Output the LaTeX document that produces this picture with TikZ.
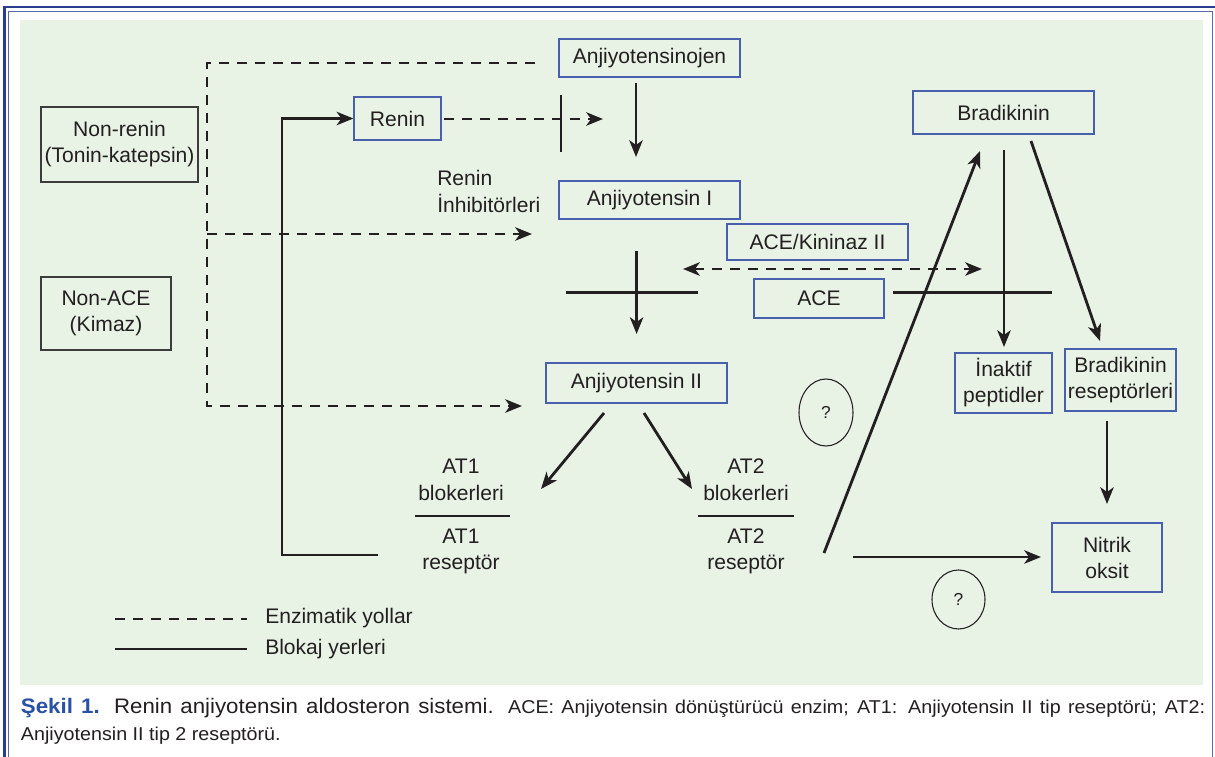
\documentclass[tikz,border=0pt]{standalone}
\usepackage{fontspec}
\setmainfont{Liberation Sans}
\newfontfamily\capfont[FakeStretch=1.06]{Liberation Sans}
\usetikzlibrary{arrows.meta,shapes.geometric}
\definecolor{bg}{RGB}{232,243,230}
\definecolor{boxblue}{RGB}{72,95,172}
\definecolor{boxgray}{RGB}{60,60,60}
\definecolor{navy}{RGB}{42,60,140}
\definecolor{frameblue}{RGB}{85,105,175}
\definecolor{ink}{RGB}{35,31,32}
\definecolor{capblue}{RGB}{40,80,165}
\newcommand\dfont{\fontsize{15.8}{19.5}\selectfont}
\newcommand\qfont{\fontsize{13}{15}\selectfont}
\begin{document}
\begin{tikzpicture}[x=0.75pt,y=-0.75pt,
  bx/.style={draw=boxblue, line width=0.9pt, inner sep=0pt, align=center, text=ink, font=\dfont},
  gbx/.style={bx, draw=boxgray, line width=0.8pt},
  lbl/.style={inner sep=0pt, text=ink, font=\dfont},
  sol/.style={draw=ink, line width=2.1pt},
  tip/.tip={Stealth[length=12.5pt,width=10pt,inset=3.5pt]},
  arr/.style={sol, -tip},
  dsh/.style={sol, dash pattern=on 7.5pt off 6pt},
  darr/.style={dsh, -tip},
  qel/.style={ellipse, draw=ink, line width=0.8pt, inner sep=0pt, text=ink, font=\qfont}
]
\useasboundingbox (0,0) rectangle (1215,757);
\fill[white] (0,0) rectangle (1215,757);
\fill[bg] (20,20) rectangle (1203,685);
% frame
\draw[navy, line width=2pt] (4.7,757) -- (4.7,7) -- (1215,7);
\draw[frameblue, line width=0.8pt] (8.8,757) -- (8.8,11.3) -- (1212.7,11.3) -- (1212.7,757);

% boxes
\node[gbx, minimum width=117.75pt, minimum height=56.25pt] (nonrenin) at (119.5,144.5) {Non-renin\\(Tonin-katepsin)};
\node[gbx, minimum width=97.5pt, minimum height=54.75pt] (nonace) at (106,313.5) {Non-ACE\\(Kimaz)};
\node[bx, minimum width=65.25pt, minimum height=32.25pt] (renin) at (397.5,118.5) {Renin};
\node[bx, minimum width=135.75pt, minimum height=28.5pt] (ajo) at (649.5,58) {Anjiyotensinojen};
\node[bx, minimum width=135.75pt, minimum height=28.5pt] (a1) at (649.5,200) {Anjiyotensin I};
\node[bx, minimum width=135.75pt, minimum height=27pt] (kin) at (817.5,242) {ACE/Kininaz II};
\node[bx, minimum width=97.5pt, minimum height=29.25pt] (ace) at (819,298.5) {ACE};
\node[bx, minimum width=135.75pt, minimum height=30pt] (a2) at (636.5,383) {Anjiyotensin II};
\node[bx, minimum width=135.75pt, minimum height=32.25pt] (brad) at (1003.5,112.5) {Bradikinin};
\node[bx, minimum width=72.75pt, minimum height=45pt] (inak) at (1003.5,383) {İnaktif\\peptidler};
\node[bx, minimum width=83.25pt, minimum height=46.5pt] (brec) at (1120.5,380) {Bradikinin\\reseptörleri};
\node[bx, minimum width=82.5pt, minimum height=51.75pt] (no) at (1107,557.5) {Nitrik\\oksit};

% ellipses
\node[qel, minimum width=40.5pt, minimum height=50.25pt] (q1) at (826,412.5) {?};
\node[qel, minimum width=39.75pt, minimum height=44.25pt] (q2) at (958.5,599.5) {?};

% free labels
\node[lbl, anchor=base west] (ri1) at (437,185) {Renin};
\node[lbl, anchor=base west] (ri2) at (437,212) {İnhibitörleri};
\node[lbl, anchor=base] (at1a) at (461,473) {AT1};
\node[lbl, anchor=base] (at1b) at (461,500) {blokerleri};
\node[lbl, anchor=base] (at1c) at (461,543) {AT1};
\node[lbl, anchor=base] (at1d) at (461,569) {reseptör};
\node[lbl, anchor=base] (at2a) at (746,473) {AT2};
\node[lbl, anchor=base] (at2b) at (746,500) {blokerleri};
\node[lbl, anchor=base] (at2c) at (746,543) {AT2};
\node[lbl, anchor=base] (at2d) at (746,569) {reseptör};
\node[lbl, anchor=base west] (lg1) at (265,623) {Enzimatik yollar};
\node[lbl, anchor=base west] (lg2) at (265,654) {Blokaj yerleri};

% coordinates
\coordinate (d0) at (535,63);
\coordinate (d1) at (207,63);
\coordinate (d2) at (207,406);
\coordinate (d3) at (522,406);
\coordinate (dm0) at (207,234);
\coordinate (dm1) at (532,234);
\coordinate (r0) at (444,119);
\coordinate (r1) at (603,119);
\coordinate (rb0) at (561,95);
\coordinate (rb1) at (561,152);
\coordinate (aa0) at (636,83);
\coordinate (aa1) at (636,157);
\coordinate (b0) at (636.6,251);
\coordinate (b1) at (636.6,334);
\coordinate (c0) at (566,292.7);
\coordinate (c1) at (698,292.7);
\coordinate (e0) at (683,269);
\coordinate (e1) at (982,269);
\coordinate (f0) at (893,292.7);
\coordinate (f1) at (1052,292.7);
\coordinate (g0) at (1004,150);
\coordinate (g1) at (1004,347);
\coordinate (h0) at (1031,141);
\coordinate (h1) at (1100,341);
\coordinate (k0) at (1107,421);
\coordinate (k1) at (1107,504);
\coordinate (m0) at (824,553);
\coordinate (m1) at (980,151);
\coordinate (n0) at (853,557);
\coordinate (n1) at (1041,557);
\coordinate (p0) at (604,413);
\coordinate (p1) at (541,489);
\coordinate (pp0) at (644,413);
\coordinate (pp1) at (692,489);
\coordinate (s0) at (415,516);
\coordinate (s1) at (510,516);
\coordinate (t0) at (698,516);
\coordinate (t1) at (794,516);
\coordinate (u0) at (378,555);
\coordinate (u1) at (282,555);
\coordinate (u2) at (282,118.5);
\coordinate (l0) at (115,619);
\coordinate (l1) at (247,619);
\coordinate (l2) at (115,649);
\coordinate (l3) at (247,649);

% enzymatic (dashed) paths
\draw[darr] (d0) -- (d1) -- (d2) -- (d3);
\draw[darr] (dm0) -- (dm1);
\draw[darr] (r0) -- (r1);
\draw[dsh, tip-tip] (e0) -- (e1);

% solid arrows and blocks
\draw[sol] (rb0) -- (rb1);
\draw[arr] (aa0) -- (aa1);
\draw[arr] (b0) -- (b1);
\draw[sol] (c0) -- (c1);
\draw[sol] (f0) -- (f1);
\draw[arr] (g0) -- (g1);
\draw[arr] (h0) -- (h1);
\draw[arr] (k0) -- (k1);
\draw[arr] (m0) -- (m1);
\draw[arr] (n0) -- (n1);
\draw[arr] (p0) -- (p1);
\draw[arr] (pp0) -- (pp1);
\draw[sol] (s0) -- (s1);
\draw[sol] (t0) -- (t1);
\draw[arr] (u0) -- (u1) -- (u2) -- (renin.west);

% legend
\draw[dsh] (l0) -- (l1);
\draw[sol] (l2) -- (l3);

% caption
\node[inner sep=0pt, anchor=base west, text=ink] (cap1) at (20.7,713) {\capfont\hbox to 888.2pt{\fontsize{15.75}{19}\selectfont\textcolor{capblue}{\bfseries Şekil 1.} Renin anjiyotensin aldosteron sistemi. \fontsize{13.95}{17}\selectfont ACE: Anjiyotensin dönüştürücü enzim; AT1: Anjiyotensin II tip reseptörü; AT2:}};
\node[inner sep=0pt, anchor=base west, text=ink] (cap2) at (20.7,740) {\capfont\fontsize{13.95}{17}\selectfont Anjiyotensin II tip 2 reseptörü.};
\end{tikzpicture}
\end{document}
